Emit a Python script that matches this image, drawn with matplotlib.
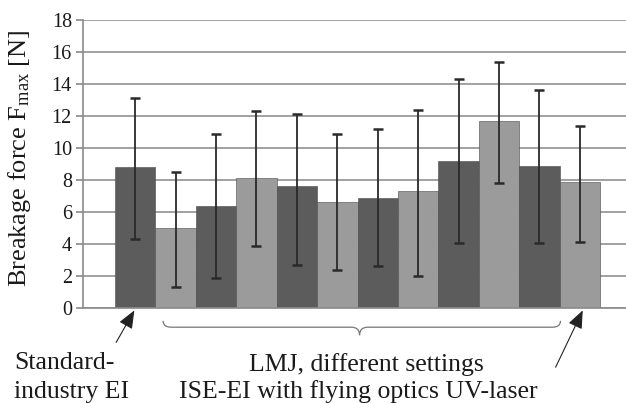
import matplotlib
matplotlib.use("Agg")
import matplotlib.pyplot as plt
from matplotlib.path import Path
from matplotlib.patches import PathPatch
import numpy as np

# data
labels = ["Std-EI", "LMJ1", "LMJ2", "LMJ3", "LMJ4", "LMJ5", "LMJ6", "LMJ7", "LMJ8", "LMJ9", "LMJ10", "ISE-EI UV"]
means = [8.8, 5.0, 6.4, 8.1, 7.6, 6.6, 6.9, 7.3, 9.2, 11.7, 8.9, 7.9]
err_low = [4.5, 3.7, 4.5, 4.25, 4.9, 4.25, 4.3, 5.3, 5.15, 3.9, 4.85, 3.8]
err_high = [4.35, 3.5, 4.5, 4.2, 4.5, 4.25, 4.3, 5.1, 5.1, 3.7, 4.7, 3.5]
yticks = [0, 2, 4, 6, 8, 10, 12, 14, 16, 18]

plt.rcParams['font.family'] = ['Liberation Serif', 'DejaVu Serif']
plt.rcParams['mathtext.fontset'] = 'custom'
plt.rcParams['mathtext.rm'] = 'Liberation Serif'
plt.rcParams['mathtext.it'] = 'Liberation Serif:italic'

TXT = '#1a1a1a'

fig = plt.figure(figsize=(6.26, 4.03), dpi=100)
ax = fig.add_axes([83/626, 1 - 308/403, 1 - 83/626, 288/403])

x = np.arange(len(means))
colors = ['#5c5c5c' if i % 2 == 0 else '#9b9b9b' for i in range(len(means))]
ax.bar(x, means, width=1.0, color=colors, edgecolor='#4a4a4a', linewidth=0.4, zorder=2)
ax.errorbar(x, means, yerr=[err_low, err_high], fmt='none', ecolor='#2a2a2a',
            elinewidth=1.3, capsize=3.5, capthick=1.8, zorder=3)

ax.set_ylim(0, 18)
ax.set_xlim(-1.29, 12.14)
ax.set_yticks(yticks)
ax.set_yticklabels([str(t) for t in yticks], fontsize=14.5, color=TXT)
ax.set_xticks([])
ax.yaxis.grid(True, color='#9a9a9a', linewidth=1.3, zorder=0)
ax.set_axisbelow(True)
for s in ['top', 'right']:
    ax.spines[s].set_visible(False)
ax.spines['left'].set_color('#8a8a8a')
ax.spines['left'].set_linewidth(1.2)
ax.spines['bottom'].set_color('#8a8a8a')
ax.spines['bottom'].set_linewidth(1.2)
ax.tick_params(axis='y', length=5, width=1.2, color='#8a8a8a', pad=3)

fig.text(20/626, 1 - 158/403, r'Breakage force F$_{\mathrm{max}}$ [N]', rotation=90,
         ha='center', va='center', fontsize=19, color=TXT)

# annotations
ax.annotate('', xy=(-0.02, -0.15), xytext=(-0.47, -2.15), xycoords='data', textcoords='data',
            annotation_clip=False,
            arrowprops=dict(arrowstyle='-|>,head_length=1.1,head_width=0.45', color='#222222',
                            lw=0.8, shrinkA=0, shrinkB=0))
ax.annotate('', xy=(11.07, -0.15), xytext=(10.4, -3.7), xycoords='data', textcoords='data',
            annotation_clip=False,
            arrowprops=dict(arrowstyle='-|>,head_length=1.1,head_width=0.45', color='#222222',
                            lw=0.8, shrinkA=0, shrinkB=0))

# brace
x0, x1, xm = 0.69, 10.52, 5.55
yt, yl, yb = -0.8, -1.2, -1.7
r = 0.2
verts = [(x0, yt), (x0, yl), (x0 + r, yl), (xm - r, yl), (xm, yl), (xm, yb),
         (xm, yl), (xm + r, yl), (x1 - r, yl), (x1, yl), (x1, yt)]
codes = [Path.MOVETO, Path.CURVE3, Path.CURVE3, Path.LINETO, Path.CURVE3, Path.CURVE3,
         Path.CURVE3, Path.CURVE3, Path.LINETO, Path.CURVE3, Path.CURVE3]
ax.add_patch(PathPatch(Path(verts, codes), facecolor='none', edgecolor='#777777', lw=0.9,
                       clip_on=False))

FS = 18.5
fig.text(14/626, 1 - 369/403, 'Standard-', ha='left', va='baseline', fontsize=FS, color=TXT)
fig.text(14/626, 1 - 398/403, 'industry EI', ha='left', va='baseline', fontsize=FS, color=TXT)
fig.text(366/626, 1 - 371/403, 'LMJ, different settings', ha='center', va='baseline', fontsize=FS, color=TXT)
fig.text(358/626, 1 - 398/403, 'ISE-EI with flying optics UV-laser', ha='center', va='baseline', fontsize=FS, color=TXT)

fig.savefig('out.png', dpi=100)
